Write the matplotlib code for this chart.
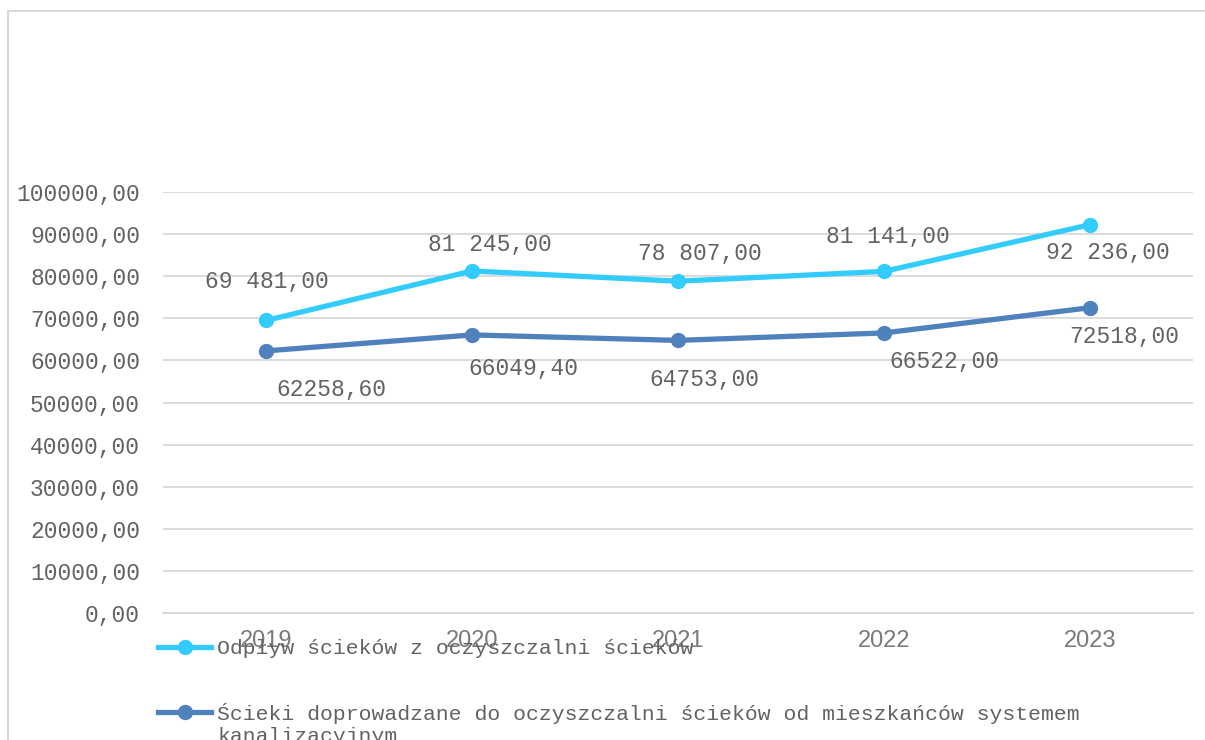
import matplotlib.pyplot as plt
from matplotlib.lines import Line2D
from matplotlib.patches import Rectangle

years = ["2019", "2020", "2021", "2022", "2023"]
odplyw = [69481.00, 81245.00, 78807.00, 81141.00, 92236.00]
doprowadzane = [62258.60, 66049.40, 64753.00, 66522.00, 72518.00]
y_ticks = [0, 10000, 20000, 30000, 40000, 50000, 60000, 70000, 80000, 90000, 100000]

label_odplyw = "Odpływ ścieków z oczyszczalni ścieków"
label_doprowadzane = "Ścieki doprowadzane do oczyszczalni ścieków od mieszkańców systemem"
label_cont = "kanalizacyjnym"

# label offsets in pixels (x, y) from each point
off_odplyw = [(1, 39), (18, 26), (22, 28), (4, 35), (18, -28)]
off_doprow = [(65, -39), (51, -34), (26, -39), (60, -29), (34, -29)]

FONT = "Liberation Mono"
FS = 16.5
FS_LEG = 15.4
GRAY = "#626262"
C1 = "#33ccff"
C2 = "#4f81bd"


def fmt_space(v):
    s = f"{v:,.2f}"
    return s.replace(",", " ").replace(".", ",")


def fmt_plain(v):
    return f"{v:.2f}".replace(".", ",")


fig = plt.figure(figsize=(12.05, 7.4), dpi=100)
fig.patches.append(Rectangle((8 / 1205, -0.1), 1.2, 1 - 11 / 740 + 0.1,
                             transform=fig.transFigure, fill=False,
                             edgecolor="#d9d9d9", linewidth=1.5))

ax = fig.add_axes([163 / 1205, 1 - 613 / 740, (1193 - 163) / 1205, (613 - 192) / 740])
x = list(range(len(years)))

ax.plot(x, odplyw, color=C1, linewidth=3.8, marker="o", markersize=10, zorder=3)
ax.plot(x, doprowadzane, color=C2, linewidth=3.8, marker="o", markersize=10, zorder=3)

for i, v in enumerate(odplyw):
    ax.annotate(fmt_space(v), (i, v), xytext=off_odplyw[i], textcoords="offset pixels",
                ha="center", va="center", fontsize=FS, family=FONT, color=GRAY)
for i, v in enumerate(doprowadzane):
    ax.annotate(fmt_plain(v), (i, v), xytext=off_doprow[i], textcoords="offset pixels",
                ha="center", va="center", fontsize=FS, family=FONT, color=GRAY)

ax.set_xlim(-0.5, len(years) - 0.5)
ax.set_ylim(0, 100000)
ax.set_yticks(y_ticks)
ax.set_yticklabels([fmt_plain(t) for t in y_ticks])
ax.set_xticks(x)
ax.set_xticklabels(years)
for lbl in ax.get_yticklabels():
    lbl.set_fontfamily(FONT)
    lbl.set_fontsize(FS)
    lbl.set_color(GRAY)
for lbl in ax.get_xticklabels():
    lbl.set_fontfamily("Liberation Sans")
    lbl.set_fontsize(17)
    lbl.set_color("#7a7a7a")
ax.tick_params(length=0)
ax.tick_params(axis="x", pad=12)
ax.tick_params(axis="y", pad=16.5)
ax.grid(axis="y", color="#d9d9d9", linewidth=1.3)
ax.set_axisbelow(True)
for side in ["top", "right", "left"]:
    ax.spines[side].set_visible(False)
ax.spines["bottom"].set_color("#d9d9d9")
ax.spines["bottom"].set_linewidth(1.3)

handles = [Line2D([], [], color=C1, linewidth=3.8, marker="o", markersize=10),
           Line2D([], [], color=C2, linewidth=3.8, marker="o", markersize=10)]
leg = fig.legend(handles, [label_odplyw, label_doprowadzane], loc="upper left",
                 bbox_to_anchor=(158 / 1205, 1 - 639 / 740), frameon=False,
                 prop={"family": FONT, "size": FS_LEG}, labelcolor=GRAY,
                 handlelength=2.5, handletextpad=0.25, labelspacing=2.1,
                 borderpad=0, borderaxespad=0, numpoints=1)
fig.text(218 / 1205, 1 - 737 / 740, label_cont, family=FONT, fontsize=FS_LEG,
         color=GRAY, va="center", ha="left")

fig.savefig("out.png", dpi=100)
